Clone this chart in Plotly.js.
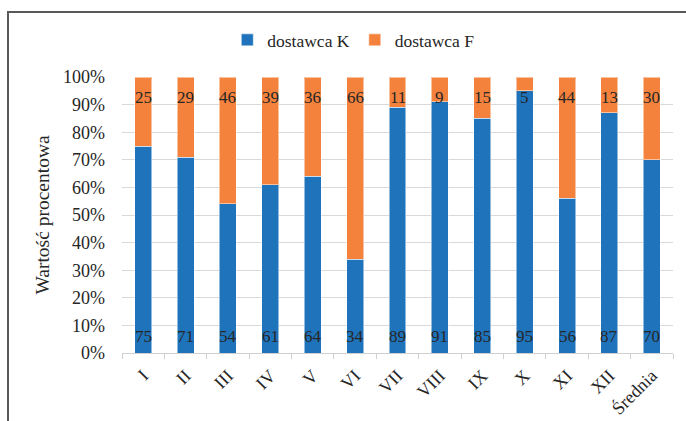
<!DOCTYPE html>
<html>
<head>
<meta charset="utf-8">
<script src="https://cdn.plot.ly/plotly-3.0.1.min.js"></script>
<style>
  html, body { margin: 0; padding: 0; background: #fff; }
  #wrap { position: relative; width: 686px; height: 421px; overflow: hidden; }
  #chart { position: absolute; left: 0; top: 0; width: 686px; height: 421px; }
  #frame { position: absolute; left: 7px; top: 11px; width: 700px; height: 430px;
           border-top: 2px solid #595959; border-left: 2px solid #595959; pointer-events: none; }
</style>
</head>
<body>
<div id="wrap">
  <div id="chart"></div>
  <div id="frame"></div>
</div>
<script>
// Months plus the yearly average
const categories = ['I', 'II', 'III', 'IV', 'V', 'VI', 'VII', 'VIII', 'IX', 'X', 'XI', 'XII', 'Średnia'];
// Share of deliveries per supplier (%)
const dostawcaK = [75, 71, 54, 61, 64, 34, 89, 91, 85, 95, 56, 87, 70];
const dostawcaF = [25, 29, 46, 39, 36, 66, 11, 9, 15, 5, 44, 13, 30];

const serif = 'Liberation Serif';
const ink = '#262626';
const labelFont = { family: serif, size: 17, color: ink };

const traces = [
  {
    type: 'bar', name: 'dostawca K', x: categories, y: dostawcaK,
    marker: { color: '#1f73bb', line: { color: 'rgba(255,255,255,0.5)', width: 1 } },
    hoverinfo: 'skip'
  },
  {
    type: 'bar', name: 'dostawca F', x: categories, y: dostawcaF,
    marker: { color: '#f4823d', line: { color: 'rgba(255,255,255,0.5)', width: 1 } },
    hoverinfo: 'skip'
  }
];

// Value labels: K near the base of each bar, F near the top of each bar
const annotations = [];
categories.forEach((c, i) => {
  const total = dostawcaK[i] + dostawcaF[i];
  annotations.push({
    x: c, y: 0, text: String(dostawcaK[i]), showarrow: false,
    yanchor: 'middle', yshift: 17, font: labelFont
  });
  annotations.push({
    x: c, y: (total / total) * 100, text: String(dostawcaF[i]), showarrow: false,
    yanchor: 'middle', yshift: -20, font: labelFont
  });
});

const layout = {
  width: 686, height: 421,
  margin: { l: 122, r: 13, t: 77, b: 68 },
  paper_bgcolor: '#fff', plot_bgcolor: '#fff',
  barmode: 'stack', barnorm: 'percent', bargap: 0.6,
  font: { family: serif, size: 17, color: ink },
  showlegend: true,
  legend: {
    orientation: 'h', xref: 'container', x: 0.515, xanchor: 'center',
    yref: 'container', y: 0.905, yanchor: 'middle',
    font: { family: serif, size: 17.5, color: ink },
    traceorder: 'normal'
  },
  annotations: annotations,
  xaxis: {
    type: 'category', tickangle: -45,
    tickfont: { family: serif, size: 18, color: ink },
    showgrid: false, showline: true, linecolor: '#d0d0d0', linewidth: 1,
    ticks: 'outside', tickson: 'boundaries', ticklen: 5, tickcolor: '#d0d0d0',
    ticklabelstandoff: 4,
    zeroline: false, fixedrange: true
  },
  yaxis: {
    range: [0, 100], dtick: 10, ticksuffix: '%',
    tickfont: { family: serif, size: 18, color: ink },
    showgrid: true, gridcolor: '#d9d9d9', gridwidth: 1,
    zeroline: false, showline: false, ticks: '', ticklabelstandoff: 16,
    title: { text: 'Wartość procentowa', font: { family: serif, size: 19.5, color: ink }, standoff: 8 },
    fixedrange: true
  }
};

Plotly.newPlot('chart', traces, layout, { displayModeBar: false, staticPlot: true });
</script>
</body>
</html>
